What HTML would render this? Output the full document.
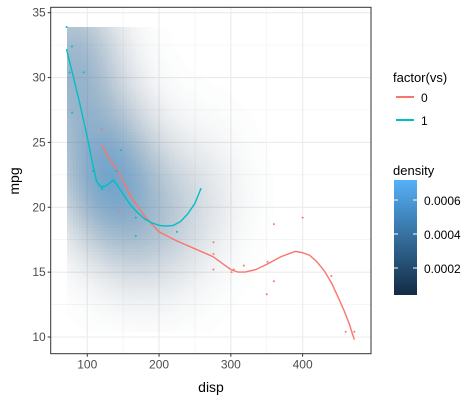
<!DOCTYPE html>
<html><head><meta charset="utf-8"><style>
body{margin:0;background:#fff;}
svg{display:block;font-family:"Liberation Sans",Arial,sans-serif;}
</style></head><body>
<svg id="chart" width="476" height="401" viewBox="0 0 476 401">
  <rect x="0" y="0" width="476" height="401" fill="#fff"/>
  <g id="grid"></g>
  <g id="raster" shape-rendering="crispEdges"></g>
  <g id="lines"></g>
  <g id="points"></g>
  <rect x="50.7" y="7.3" width="320.3" height="346.4" fill="none" stroke="#333" stroke-width="1"/>
  <g id="axes"></g>
  <text x="211" y="392" text-anchor="middle" font-size="14" fill="#000">disp</text>
  <text x="0" y="0" transform="translate(19,181) rotate(-90)" text-anchor="middle" font-size="14" fill="#000">mpg</text>
  <g>
    <text x="393" y="82" font-size="13" fill="#000">factor(vs)</text>
    <line x1="396" y1="97" x2="414" y2="97" stroke="#F8766D" stroke-width="2"/>
    <text x="421" y="102" font-size="12" fill="#000">0</text>
    <line x1="396" y1="120" x2="414" y2="120" stroke="#00BFC4" stroke-width="2"/>
    <text x="421" y="125" font-size="12" fill="#000">1</text>
  </g>
  <g>
    <defs><linearGradient id="cb" x1="0" y1="1" x2="0" y2="0">
      <stop offset="0" stop-color="#132B43"/><stop offset="1" stop-color="#56B1F7"/></linearGradient></defs>
    <text x="393" y="175" font-size="13" fill="#000">density</text>
    <rect x="394" y="180" width="23" height="115" fill="url(#cb)"/>
    <g stroke="#fff" stroke-width="1">
      <line x1="394" y1="200" x2="398" y2="200"/><line x1="413" y1="200" x2="417" y2="200"/>
      <line x1="394" y1="234" x2="398" y2="234"/><line x1="413" y1="234" x2="417" y2="234"/>
      <line x1="394" y1="268" x2="398" y2="268"/><line x1="413" y1="268" x2="417" y2="268"/>
    </g>
    <text x="424" y="205" font-size="12" fill="#000">0.0006</text>
    <text x="424" y="239" font-size="12" fill="#000">0.0004</text>
    <text x="424" y="273" font-size="12" fill="#000">0.0002</text>
  </g>
</svg>
<script>
const xTicks=[100,200,300,400];
const xMinor=[150,250,350];
const yTicks=[10,15,20,25,30,35];
const yMinor=[12.5,17.5,22.5,27.5,32.5];
const disp=[160,160,108,258,360,225,360,146.7,140.8,167.6,167.6,275.8,275.8,275.8,472,460,440,78.7,75.7,71.1,120.1,318,304,350,400,79,120.3,95.1,351,145,301,121];
const mpg=[21,21,22.8,21.4,18.7,18.1,14.3,24.4,22.8,19.2,17.8,16.4,17.3,15.2,10.4,10.4,14.7,32.4,30.4,33.9,21.5,15.5,15.2,13.3,19.2,27.3,26,30.4,15.8,19.7,15,21.4];
const vs=[0,0,1,1,0,1,0,1,1,1,1,0,0,0,0,0,0,1,1,1,1,0,0,0,0,1,0,1,0,0,0,1];
const smooth0X=[120,130,145,160,180,200,225,250,275,290,300,310,320,335,350,370,390,400,410,420,430,440,450,458,465,472];
const smooth0Y=[24.8,23.8,22.6,20.9,19.3,18.1,17.4,16.8,16.2,15.6,15.2,15.0,15.0,15.2,15.6,16.2,16.6,16.5,16.3,15.8,15.1,14.2,13.0,12.0,11.0,9.8];
const smooth1X=[71,75,80,90,100,108,113,118,124,130,136,142,150,160,170,180,190,200,210,220,230,240,250,258];
const smooth1Y=[32.2,31.3,30.2,27.9,25.4,23.2,22.0,21.6,21.6,21.8,22.1,21.7,21.0,20.2,19.6,19.1,18.8,18.6,18.55,18.6,18.9,19.5,20.3,21.4];
const NS="http://www.w3.org/2000/svg";
function X(v){return 15.5+v*0.7178;}
function Y(v){return 337-(v-10)*12.972;}
function IX(px){return (px-15.5)/0.7178;}
function IY(py){return 10+(337-py)/12.972;}
function mk(tag,attrs,parent){const e=document.createElementNS(NS,tag);for(const k in attrs)e.setAttribute(k,attrs[k]);parent.appendChild(e);return e;}
const grid=document.getElementById('grid'),axes=document.getElementById('axes');
const L=50.7,R=371,T=7.3,B=353.7;
xMinor.forEach(v=>{const l=mk('line',{x1:X(v),x2:X(v),y1:T,y2:B,stroke:'#f0f0f0','stroke-width':0.6},grid);});
yMinor.forEach(v=>{const l=mk('line',{x1:L,x2:R,y1:Y(v),y2:Y(v),stroke:'#f0f0f0','stroke-width':0.6},grid);});
xTicks.forEach(v=>{
  const g=mk('line',{x1:X(v),x2:X(v),y1:T,y2:B,stroke:'#ebebeb','stroke-width':1.1},grid);
  
  const t=mk('line',{x1:X(v),x2:X(v),y1:B,y2:B+3,stroke:'#333'},axes);
  
  const tx=mk('text',{x:X(v),y:B+15,'text-anchor':'middle','font-size':12,fill:'#4d4d4d'},axes);tx.textContent=v;
  
});
yTicks.forEach(v=>{
  const g=mk('line',{x1:L,x2:R,y1:Y(v),y2:Y(v),stroke:'#ebebeb','stroke-width':1.1},grid);
  
  const t=mk('line',{x1:L-3,x2:L,y1:Y(v),y2:Y(v),stroke:'#333'},axes);
  
  const tx=mk('text',{x:L-5,y:Y(v)+4,'text-anchor':'end','font-size':12,fill:'#4d4d4d'},axes);tx.textContent=v;
  
});
// density raster (KDE of vs=1 points), pixel-aligned cells
const raster=document.getElementById('raster');
const x0=71.1,x1=472,y0=10.4,y1=33.9,hx=48,hy=3.8,cs=3;
const px0=Math.round(X(x0)),px1=Math.round(X(x1)),py0=Math.round(Y(y1)),py1=Math.round(Y(y0));
const cells=[];let mx=0;
for(let py=py0;py<py1;py+=cs)for(let px=px0;px<px1;px+=cs){
  const w=Math.min(cs,px1-px),h=Math.min(cs,py1-py);
  const xv=IX(px+w/2),yv=IY(py+h/2);let d=0;
  for(let k=0;k<disp.length;k++){if(!vs[k])continue;const a=(xv-disp[k])/hx,b=(yv-mpg[k])/hy;d+=Math.exp(-0.5*(a*a+b*b));}
  cells.push([px,py,w,h,d]);if(d>mx)mx=d;
}
cells.forEach(([px,py,w,h,d])=>{
  const f=d/mx;if(f<0.02)return;
  const g=0.65*f;
  const c=[0x13+(0x56-0x13)*g,0x2B+(0xB1-0x2B)*g,0x43+(0xF7-0x43)*g].map(Math.round);
  const r=mk('rect',{x:px,y:py,width:w,height:h,fill:`rgb(${c})`,'fill-opacity':(0.72*Math.pow(f,1.25)).toFixed(3)},raster);
  
  
});
const lines=document.getElementById('lines');
function path(xs,ys,col,name){const d=xs.map((v,i)=>(i?'L':'M')+X(v).toFixed(1)+','+Y(ys[i]).toFixed(1)).join('');
  const p=mk('path',{d:d,fill:'none',stroke:col,'stroke-width':1.4},lines);
  }
path(smooth0X,smooth0Y,'#F8766D','smooth-line-vs0');
path(smooth1X,smooth1Y,'#00BFC4','smooth-line-vs1');
const pts=document.getElementById('points');
disp.forEach((v,k)=>{
  const c=mk('circle',{cx:X(v),cy:Y(mpg[k]),r:1,fill:vs[k]?'#00BFC4':'#F8766D'},pts);
  
  
});
</script>
</body></html>
